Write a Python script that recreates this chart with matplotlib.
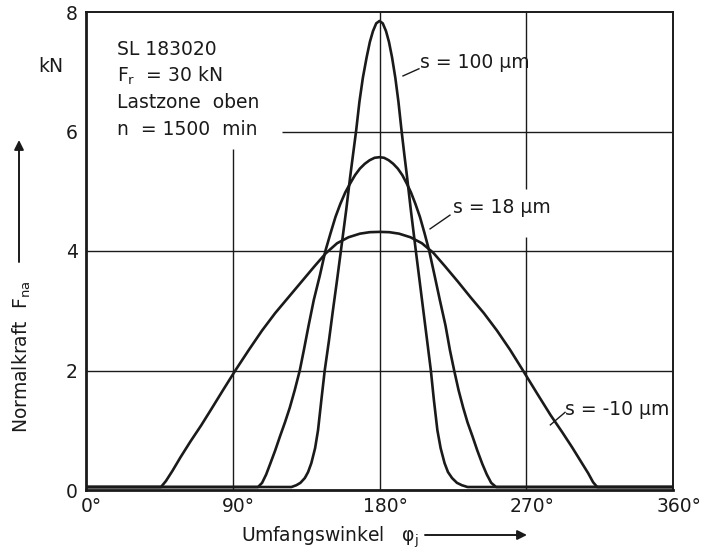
import matplotlib
matplotlib.use("Agg")
import matplotlib.pyplot as plt

plt.rcParams['font.family'] = ['DejaVu Sans']
plt.rcParams['mathtext.default'] = 'regular'

# ---- data (angle in degrees, force in kN) ----
s100_deg = [0, 126, 129, 131.5, 134.2, 136.2, 138.2, 140.5, 142.3, 144.4, 146.4, 149, 151.5,
            154, 156.4, 159.6, 162, 163.8, 165.7, 167.7, 169.8, 172.1, 174.1, 176, 178, 180,
            182, 184, 185.8, 187.7, 189.7, 191.6, 193.5, 195.2, 196.9, 199.2, 202.2, 204.5,
            206.8, 209.2, 211.5, 213.3, 215.5, 217.5, 219.9, 222, 224.5, 227.5, 230.5, 234, 360]
s100_F = [0.05, 0.05, 0.08, 0.12, 0.2, 0.3, 0.45, 0.7, 1.0, 1.52, 2.0, 2.5, 3.02,
          3.52, 4.02, 4.69, 5.24, 5.62, 6.02, 6.5, 6.9, 7.24, 7.5, 7.68, 7.81, 7.85,
          7.81, 7.68, 7.5, 7.24, 6.9, 6.5, 6.02, 5.62, 5.24, 4.69, 4.02, 3.52,
          3.02, 2.5, 2.0, 1.52, 1.0, 0.7, 0.45, 0.3, 0.2, 0.12, 0.08, 0.05, 0.05]

s18_deg = [0, 105.5, 108, 110.5, 113, 116, 119, 122, 125, 128, 131.1, 133.6, 136.5, 139.7,
           143.5, 146.8, 150, 153, 156, 159, 162, 165, 168, 171, 174, 177, 180,
           182.8, 185.6, 188.4, 191.2, 194, 196.7, 199.3, 202, 204.8, 207.6, 210.5,
           213.7, 217, 220.5, 223.2, 225.8, 228.5, 231.3, 234, 237, 240, 243, 245.8, 248.5,
           251.5, 360]
s18_F = [0.05, 0.05, 0.12, 0.26, 0.44, 0.66, 0.9, 1.13, 1.38, 1.67, 2.0, 2.34, 2.75, 3.18,
         3.6, 4.0, 4.3, 4.57, 4.79, 4.98, 5.13, 5.27, 5.38, 5.46, 5.52, 5.56, 5.57,
         5.56, 5.52, 5.46, 5.38, 5.27, 5.13, 4.98, 4.79, 4.57, 4.3, 4.0,
         3.6, 3.18, 2.75, 2.34, 2.0, 1.67, 1.38, 1.13, 0.9, 0.66, 0.44, 0.26, 0.12,
         0.05, 0.05]

sm10_deg = [0, 46, 49, 53, 58, 64, 70.6, 77, 84, 91.8, 100, 108, 116, 124, 132, 140, 147,
            154, 161, 168, 174, 180, 186, 192, 199, 206, 213, 220, 228, 236, 244, 252, 260,
            268, 277, 285, 292, 298, 303, 308, 311, 313.5, 360]
sm10_F = [0.05, 0.05, 0.15, 0.32, 0.55, 0.81, 1.08, 1.36, 1.67, 2.01, 2.35, 2.67, 2.96, 3.22,
          3.48, 3.74, 3.96, 4.13, 4.23, 4.29, 4.315, 4.32, 4.315, 4.29, 4.23, 4.13, 3.97,
          3.75, 3.49, 3.22, 2.96, 2.67, 2.35, 2.0, 1.6, 1.25, 0.97, 0.72, 0.5, 0.28, 0.13,
          0.05, 0.05]

series_labels = ["s = 100 µm", "s = 18 µm", "s = -10 µm"]
x_ticks = [0, 90, 180, 270, 360]
x_tick_labels = ["0°", "90°", "180°", "270°", "360°"]
y_ticks = [0, 2, 4, 6, 8]
info_lines = ["SL 183020", "$F_r$  = 30 kN", "Lastzone  oben", "n  = 1500  min"]

W, H = 702, 552
INK = '#1a1a1a'
fig = plt.figure(figsize=(W / 100, H / 100), dpi=100)
ax = fig.add_axes([86 / W, 62 / H, 587 / W, 478 / H])
ax.set_xlim(0, 360)
ax.set_ylim(0, 8)

# grid (with the gaps of the original drawing)
glw = 1.0
ax.hlines(2, 0, 360, color=INK, lw=glw, zorder=1)
ax.hlines(4, 0, 360, color=INK, lw=glw, zorder=1)
ax.hlines(6, 120, 360, color=INK, lw=glw, zorder=1)
ax.vlines(90, 0, 5.7, color=INK, lw=glw, zorder=1)
ax.vlines(180, 0, 8, color=INK, lw=glw, zorder=1)
ax.vlines(270, 0, 4.23, color=INK, lw=glw, zorder=1)
ax.vlines(270, 5.04, 8, color=INK, lw=glw, zorder=1)

# curves
for xs, ys in [(s100_deg, s100_F), (s18_deg, s18_F), (sm10_deg, sm10_F)]:
    ax.plot(xs, ys, color=INK, lw=1.9, solid_joinstyle='round', zorder=3)

# spines
for side in ['left', 'bottom']:
    ax.spines[side].set_linewidth(2.0)
for side in ['top', 'right']:
    ax.spines[side].set_linewidth(1.4)
for sp in ax.spines.values():
    sp.set_color(INK)

fs = 13.5
ax.set_yticks(y_ticks)
ax.set_yticklabels([str(v) for v in y_ticks], fontsize=fs, color=INK)
ax.tick_params(axis='y', length=0, pad=6)
ax.set_xticks(x_ticks)
ax.set_xticklabels([])
ax.tick_params(axis='x', length=0)
for xv, lab in zip(x_ticks, x_tick_labels):
    ax.text(xv + 3.5, -0.12, lab, ha='center', va='top', fontsize=fs, color=INK)

# info block
for i, line in enumerate(info_lines):
    ax.text(19, 7.28 - i * 0.445, line, ha='left', va='baseline', fontsize=fs, color=INK)

# curve labels with leaders
label_pos = [(205, 7.06), (225, 4.64), (294.0, 1.26)]
leaders = [((194.4, 6.93), (204.2, 7.05)), ((211, 4.37), (223.2, 4.6)), ((284.8, 1.09), (293.8, 1.3))]
for lab, (lx, ly), ((x0, y0), (x1, y1)) in zip(series_labels, label_pos, leaders):
    ax.text(lx, ly, lab, ha='left', va='baseline', fontsize=fs, color=INK)
    ax.plot([x0, x1], [y0, y1], color=INK, lw=1.0)

def fpx(x, y):
    return x / W, 1 - y / H

# unit label
fig.text(*fpx(51, 67), "kN", ha='center', va='center', fontsize=fs, color=INK)

# axis titles with arrows
fig.text(*fpx(22, 357), "Normalkraft  $F_{na}$", rotation=90, ha='center', va='center',
         fontsize=fs, color=INK)
ax.annotate('', xy=(19, H - 140), xytext=(19, H - 262), xycoords='figure pixels',
            textcoords='figure pixels',
            arrowprops=dict(arrowstyle='-|>', lw=1.4, color=INK, mutation_scale=14,
                            shrinkA=0, shrinkB=0))
fig.text(*fpx(330, 537), "Umfangswinkel   $φ_j$", ha='center', va='center',
         fontsize=fs, color=INK)
ax.annotate('', xy=(527, H - 535), xytext=(425, H - 535), xycoords='figure pixels',
            textcoords='figure pixels',
            arrowprops=dict(arrowstyle='-|>', lw=1.4, color=INK, mutation_scale=14,
                            shrinkA=0, shrinkB=0))

fig.savefig("out.png", dpi=100, facecolor='white')
